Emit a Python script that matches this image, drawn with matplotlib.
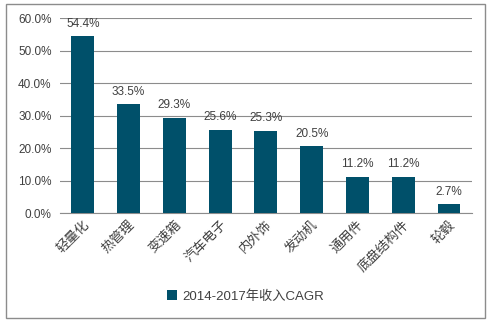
import matplotlib
matplotlib.use("Agg")
import matplotlib.pyplot as plt
from matplotlib.patches import Rectangle
from matplotlib.ticker import FuncFormatter

plt.rcParams['font.family'] = ['Liberation Sans', 'Noto Sans CJK SC', 'DejaVu Sans']

categories = ['轻量化', '热管理', '变速箱', '汽车电子', '内外饰', '发动机', '通用件', '底盘结构件', '轮毂']
values = [54.4, 33.5, 29.3, 25.6, 25.3, 20.5, 11.2, 11.2, 2.7]
series_name = '2014-2017年收入CAGR'
yticks = [0, 10, 20, 30, 40, 50, 60]

color = '#00506A'
text_color = '#404040'

fig = plt.figure(figsize=(4.91, 3.22), dpi=100)
ax = fig.add_axes([0.122, 0.3385, 0.839, 0.6055])

x = range(len(categories))
bars = ax.bar(x, values, width=0.5, color=color, label=series_name, zorder=3)
for xi, v in zip(x, values):
    ax.text(xi, v + 2.0, f'{v:.1f}%', ha='center', va='bottom', fontsize=8.5, color=text_color)

ax.set_xlim(-0.5, len(categories) - 0.5)
ax.set_ylim(0, 60)
ax.set_yticks(yticks)
ax.yaxis.set_major_formatter(FuncFormatter(lambda v, p: f'{v:.1f}%'))
ax.grid(axis='y', color='#8c8c8c', linewidth=0.8, zorder=0)
for s in ['top', 'right', 'left']:
    ax.spines[s].set_visible(False)
ax.spines['bottom'].set_color('#8c8c8c')
ax.tick_params(axis='both', length=0, labelsize=8.5, colors=text_color)
ax.tick_params(axis='y', pad=6)
ax.tick_params(axis='x', pad=4)
ax.set_xticks(list(x))
ax.set_xticklabels(categories, rotation=45, ha='right', rotation_mode='anchor', fontsize=9.5)

fig.legend(handles=[bars], labels=[series_name], loc='center', bbox_to_anchor=(0.5, 0.08),
           frameon=False, fontsize=9.5, handlelength=0.7, handleheight=0.7, handletextpad=0.4,
           labelcolor=text_color)

fig.add_artist(Rectangle((0.012, 0.013), 0.976, 0.975, transform=fig.transFigure,
                         fill=False, edgecolor='#8c8c8c', linewidth=1.0))

fig.savefig('out.png', dpi=100)
